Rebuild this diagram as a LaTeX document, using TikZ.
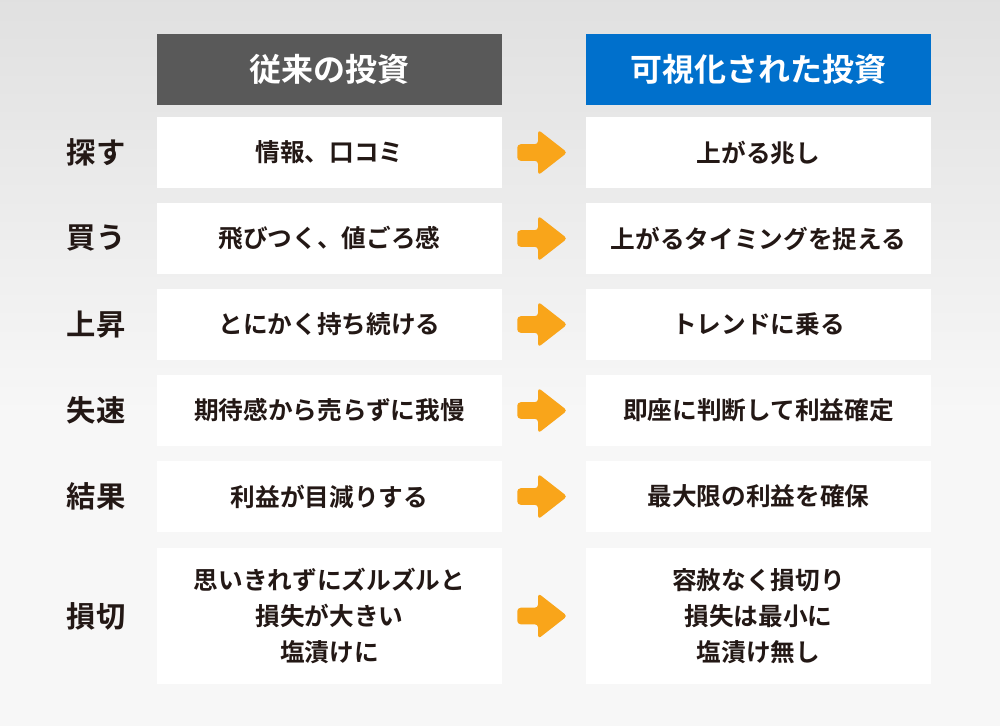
\documentclass[tikz,border=0pt]{standalone}
\usepackage{fontspec}
\usepackage{tikz}
\usepackage{xcolor}
\usetikzlibrary{shapes.arrows}
\newfontfamily\jpfont{Noto Sans CJK JP}[BoldFont={Noto Sans CJK JP Bold}]
\definecolor{inkdark}{HTML}{231815}
\definecolor{headgray}{HTML}{595959}
\definecolor{headblue}{HTML}{0070CC}
\definecolor{arroworange}{HTML}{F9A51A}
\tikzset{
    cell-box/.style = {fill=white, rectangle, inner sep=0pt, minimum width=258.75pt, minimum height=53.25pt, align=center, text=inkdark, font=\jpfont\bfseries\fontsize{18.5}{27}\selectfont},
    head-box/.style = {cell-box, text=white, font=\jpfont\bfseries\fontsize{24}{28}\selectfont},
    row-label/.style = {text=inkdark, font=\jpfont\bfseries\fontsize{22}{26}\selectfont},
    step-arrow/.style = {single arrow, fill=arroworange, inner xsep=0pt, inner ysep=6pt, minimum height=37.5pt, single arrow head extend=10.9pt, single arrow tip angle=76, rounded corners=2.5pt},
}

\begin{document}
\begin{tikzpicture}[x=0.75pt, y=-0.75pt]
% background
\shade[top color=black!12, bottom color=black!3] (0,0) rectangle (1000,420);
\fill[black!3] (0,420) rectangle (1000,726);
\useasboundingbox (0,0) rectangle (1000,726);

% headers
\node[head-box, fill=headgray] (old-head) at (329.5,69.5) {従来の投資};
\node[head-box, fill=headblue] (new-head) at (758.5,69.5) {可視化された投資};

% rows
\foreach \i/\lab/\old/\new in {1/探す/情報、口コミ/上がる兆し,
        2/買う/飛びつく、値ごろ感/上がるタイミングを捉える,
        3/上昇/とにかく持ち続ける/トレンドに乗る,
        4/失速/期待感から売らずに我慢/即座に判断して利益確定,
        5/結果/利益が目減りする/最大限の利益を確保}{
    \node[row-label] (label-\i) at (96,{152.5+86*(\i-1)}) {\lab};
    \node[cell-box] (old-\i) at (329.5,{152.5+86*(\i-1)}) {\old};
    \node[cell-box] (new-\i) at (758.5,{152.5+86*(\i-1)}) {\new};
    \node[step-arrow] (arrow-\i) at (537,{152.5+86*(\i-1)}) {};
}

\node[row-label] (label-6) at (96,616) {損切};
\node[cell-box, minimum height=102pt] (old-6) at (329.5,616) {思いきれずにズルズルと\\損失が大きい\\塩漬けに};
\node[cell-box, minimum height=102pt] (new-6) at (758.5,616) {容赦なく損切り\\損失は最小に\\塩漬け無し};
\node[step-arrow] (arrow-6) at (537,616) {};
\end{tikzpicture}
\end{document}
